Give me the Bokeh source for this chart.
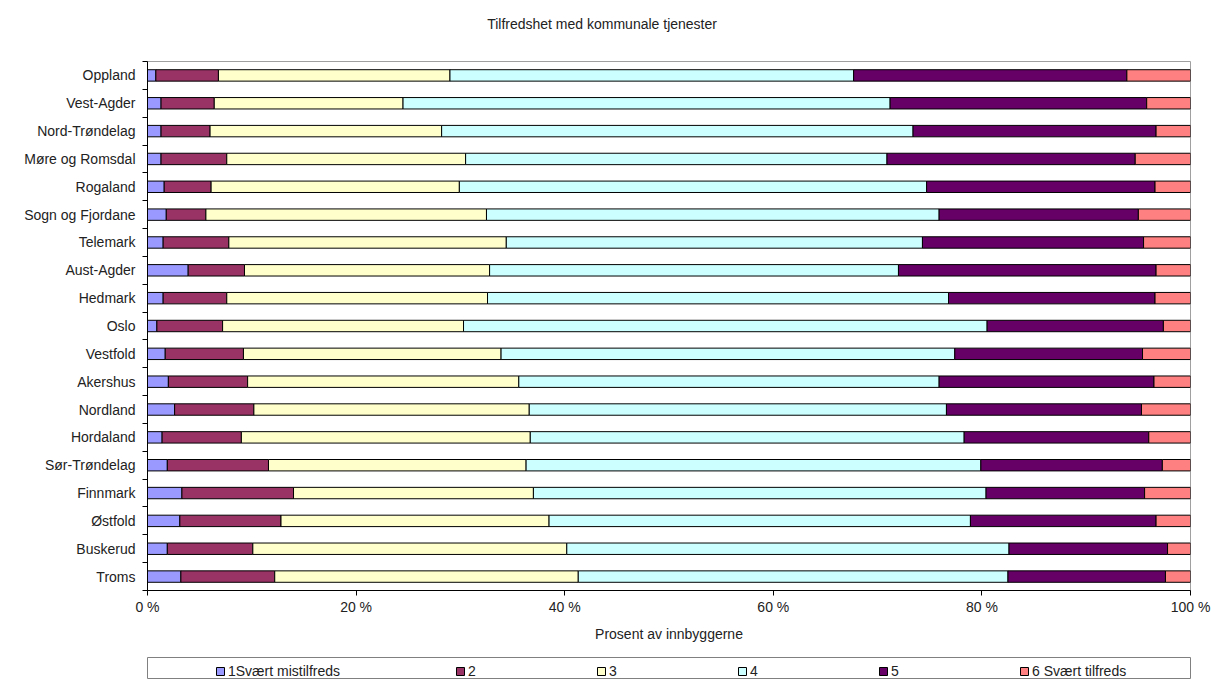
from bokeh.plotting import figure
from bokeh.models import ColumnDataSource, FixedTicker, Legend, LegendItem, Label
from bokeh.layouts import column
from bokeh.embed import file_html
from bokeh.resources import INLINE

# ---- data -------------------------------------------------------------
title_text = "Tilfredshet med kommunale tjenester"
x_axis_title = "Prosent av innbyggerne"

# counties, listed top to bottom
fylker = ["Oppland", "Vest-Agder", "Nord-Trøndelag", "Møre og Romsdal", "Rogaland",
          "Sogn og Fjordane", "Telemark", "Aust-Agder", "Hedmark", "Oslo", "Vestfold",
          "Akershus", "Nordland", "Hordaland", "Sør-Trøndelag", "Finnmark", "Østfold",
          "Buskerud", "Troms"]

# share of inhabitants (%) per answer category 1..6
svar_1 = [0.8, 1.3, 1.3, 1.3, 1.6, 1.8, 1.5, 3.9, 1.5, 0.9, 1.7, 2.0, 2.6, 1.4, 1.9, 3.3, 3.1, 1.9, 3.2]
svar_2 = [6.0, 5.1, 4.7, 6.3, 4.5, 3.8, 6.3, 5.4, 6.1, 6.3, 7.5, 7.6, 7.6, 7.6, 9.7, 10.7, 9.7, 8.2, 9.0]
svar_3 = [22.2, 18.1, 22.2, 22.9, 23.8, 26.9, 26.6, 23.5, 25.0, 23.1, 24.7, 26.0, 26.4, 27.7, 24.7, 23.0, 25.7, 30.1, 29.1]
svar_4 = [38.7, 46.7, 45.2, 40.4, 44.8, 43.4, 39.9, 39.2, 44.2, 50.2, 43.5, 40.3, 40.0, 41.6, 43.6, 43.4, 40.4, 42.4, 41.2]
svar_5 = [26.2, 24.6, 23.3, 23.8, 21.9, 19.1, 21.2, 24.7, 19.8, 16.9, 18.0, 20.6, 18.7, 17.7, 17.4, 15.2, 17.8, 15.2, 15.1]
svar_6 = [6.1, 4.2, 3.3, 5.3, 3.4, 5.0, 4.5, 3.3, 3.4, 2.6, 4.6, 3.5, 4.7, 4.0, 2.7, 4.4, 3.3, 2.2, 2.4]

series_labels = ["1Svært mistilfreds", "2", "3", "4", "5", "6 Svært tilfreds"]
series_colors = ["#9999FF", "#993366", "#FFFFCC", "#CCFFFF", "#660066", "#FF8080"]

pct_ticks = [0, 20, 40, 60, 80, 100]
pct_tick_labels = ["0 %", "20 %", "40 %", "60 %", "80 %", "100 %"]

# ---- styling ------------------------------------------------------------
FONT = "Liberation Sans"
FS = "14px"
TEXT = "#222222"
W = 1213

# ---- heading strip ----------------------------------------------------------
HEAD_H = 45
tf = figure(width=W, height=HEAD_H, x_range=(0, W), y_range=(0, HEAD_H),
            toolbar_location=None, output_backend="svg",
            min_border=0, x_axis_location=None, y_axis_location=None,
            outline_line_color=None)
tf.grid.visible = False
tf.add_layout(Label(x=395, y=HEAD_H - 23, text=title_text, text_font=FONT,
                    text_font_size=FS, text_color=TEXT,
                    text_baseline="middle", text_align="left"))

# ---- stacked bars -----------------------------------------------------------
n = len(fylker)
y_pos = [n - i - 0.5 for i in range(n)]          # first county at the top
stack_keys = ["s1", "s2", "s3", "s4", "s5", "s6"]
source = ColumnDataSource(dict(y=y_pos, s1=svar_1, s2=svar_2, s3=svar_3,
                               s4=svar_4, s5=svar_5, s6=svar_6))

p = figure(width=W, height=645 - HEAD_H, x_range=(0, 100), y_range=(0, n),
           toolbar_location=None, output_backend="svg",
           min_border_left=147, min_border_right=23,
           min_border_top=61 - HEAD_H, min_border_bottom=55,
           outline_line_color="#a0a0a0")

p.hbar_stack(stack_keys, y="y", height=0.41, color=series_colors, source=source,
             line_color="black", line_width=1)

p.xgrid.visible = False
p.ygrid.visible = False

# x axis: percent scale
xa = p.xaxis[0]
xa.ticker = FixedTicker(ticks=pct_ticks)
xa.major_label_overrides = {t: lbl for t, lbl in zip(pct_ticks, pct_tick_labels)}
xa.major_tick_out = 5
xa.major_tick_in = 0
xa.minor_tick_out = 0
xa.minor_tick_in = 0
xa.major_label_standoff = 3
xa.major_label_text_font = FONT
xa.major_label_text_font_size = FS
xa.major_label_text_color = TEXT
xa.axis_label = x_axis_title
xa.axis_label_standoff = 8
xa.axis_label_text_font = FONT
xa.axis_label_text_font_size = FS
xa.axis_label_text_font_style = "normal"
xa.axis_label_text_color = TEXT
xa.axis_line_color = "black"
xa.major_tick_line_color = "black"

# y axis: county names centred on the bars, tick marks between the bars
ya = p.yaxis[0]
ya.ticker = FixedTicker(ticks=y_pos, minor_ticks=list(range(n + 1)))
ya.major_label_overrides = {y: name for y, name in zip(y_pos, fylker)}
ya.major_tick_out = 0
ya.major_tick_in = 0
ya.minor_tick_out = 5
ya.minor_tick_in = 0
ya.minor_tick_line_color = "black"
ya.major_label_standoff = 7
ya.major_label_text_font = FONT
ya.major_label_text_font_size = FS
ya.major_label_text_color = TEXT
ya.axis_line_color = "black"

# ---- legend strip -----------------------------------------------------------
lg = figure(width=W, height=34, x_range=(0, 1), y_range=(0, 1),
            toolbar_location=None, output_backend="svg",
            min_border_left=147, min_border_right=23,
            min_border_top=12, min_border_bottom=0,
            x_axis_location=None, y_axis_location=None,
            outline_line_color="#808080")
lg.grid.visible = False

# proxy renderers for the legend swatches (placed outside the visible range)
items = []
for lbl, col in zip(series_labels, series_colors):
    r = lg.hbar(y=[-10], left=[-10], right=[-9], height=0.5,
                fill_color=col, line_color="black")
    items.append(LegendItem(label=lbl, renderers=[r]))

legend = Legend(items=items, orientation="horizontal", location=(68, 0),
                border_line_color=None, background_fill_alpha=0,
                padding=0, margin=0, spacing=115,
                glyph_width=10, glyph_height=10, label_standoff=3,
                label_width=13,
                label_text_font=FONT, label_text_font_size=FS,
                label_text_color=TEXT)
lg.add_layout(legend)

layout = column(tf, p, lg)
open("out.html", "w").write(file_html(layout, INLINE))
